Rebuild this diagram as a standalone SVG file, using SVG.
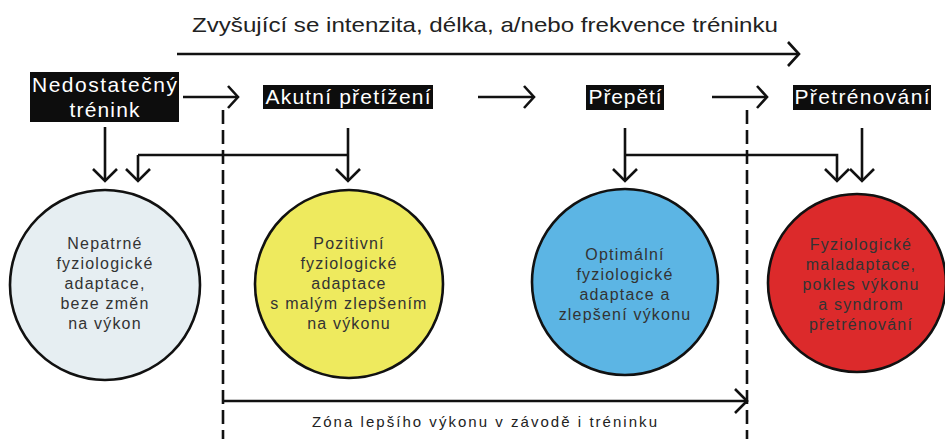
<svg xmlns="http://www.w3.org/2000/svg" width="945" height="439" viewBox="0 0 945 439">
<defs>
<style>
.ln{stroke:#111;stroke-width:2.6;fill:none;stroke-linecap:butt}
.hd{stroke:#111;stroke-width:2.6;fill:none;stroke-linejoin:miter}
.dash{stroke:#111;stroke-width:2.6;fill:none;stroke-dasharray:14 6}
.box{fill:#0d0d0d}
.bt{font-family:"Liberation Sans",Arial,sans-serif;font-size:21px;fill:#fff;text-anchor:middle}
.ct{font-family:"Liberation Sans",Arial,sans-serif;font-size:16px;fill:#333;text-anchor:middle;letter-spacing:1.2px}
.tt{font-family:"Liberation Sans",Arial,sans-serif;fill:#222;text-anchor:middle}
.circ{stroke:#111;stroke-width:2.6}
</style>
</defs>
<rect width="945" height="439" fill="#fff"/>

<g id="top-label">
<text class="tt" x="485" y="32" font-size="21" textLength="586" lengthAdjust="spacingAndGlyphs">Zvyšující se intenzita, délka, a/nebo frekvence tréninku</text>
</g>

<g id="node-nedostatecny">
<rect class="box" x="30" y="72" width="149" height="50"/>
<text class="bt" x="104.5" y="92" textLength="145" lengthAdjust="spacing">Nedostatečný</text>
<text class="bt" x="104.5" y="117" textLength="70" lengthAdjust="spacing">trénink</text>
</g>
<g id="node-akutni">
<rect class="box" x="263" y="85" width="170" height="24"/>
<text class="bt" x="348" y="104" textLength="165" lengthAdjust="spacing">Akutní přetížení</text>
</g>
<g id="node-prepeti">
<rect class="box" x="586" y="85" width="78" height="25"/>
<text class="bt" x="625" y="104" textLength="73" lengthAdjust="spacing">Přepětí</text>
</g>
<g id="node-pretrenovani">
<rect class="box" x="793" y="85" width="138" height="25"/>
<text class="bt" x="862" y="104" textLength="135" lengthAdjust="spacing">Přetrénování</text>
</g>

<g id="node-c1">
<circle class="circ" cx="105" cy="285" r="95" fill="#e6eef2"/>
<text class="ct" x="105" y="249">Nepatrné</text>
<text class="ct" x="105" y="269">fyziologické</text>
<text class="ct" x="105" y="289">adaptace,</text>
<text class="ct" x="105" y="309">beze změn</text>
<text class="ct" x="105" y="329">na výkon</text>
</g>
<g id="node-c2">
<circle class="circ" cx="349" cy="284" r="94" fill="#eeea5e"/>
<text class="ct" x="349" y="249">Pozitivní</text>
<text class="ct" x="349" y="269">fyziologické</text>
<text class="ct" x="349" y="289">adaptace</text>
<text class="ct" x="349" y="309">s malým zlepšením</text>
<text class="ct" x="349" y="329">na výkonu</text>
</g>
<g id="node-c3">
<circle class="circ" cx="625" cy="282" r="93" fill="#5cb5e4"/>
<text class="ct" x="625" y="260">Optimální</text>
<text class="ct" x="625" y="280">fyziologické</text>
<text class="ct" x="625" y="300">adaptace a</text>
<text class="ct" x="625" y="320">zlepšení výkonu</text>
</g>
<g id="node-c4">
<circle class="circ" cx="857" cy="283" r="89" fill="#dc2a2b"/>
<text class="ct" x="861" y="250">Fyziologické</text>
<text class="ct" x="861" y="270">maladaptace,</text>
<text class="ct" x="861" y="290">pokles výkonu</text>
<text class="ct" x="861" y="310">a syndrom</text>
<text class="ct" x="861" y="330">přetrénování</text>
</g>

<g id="connectors">
<path class="ln" d="M177 54 H798"/>
<path class="hd" d="M788 42 L799 54 L788 66"/>
<path class="ln" d="M183 97 H237"/>
<path class="hd" d="M228 86 L238 97 L228 108"/>
<path class="ln" d="M478 97 H533"/>
<path class="hd" d="M524 86 L534 97 L524 108"/>
<path class="ln" d="M712 97 H766"/>
<path class="hd" d="M757 86 L767 97 L757 108"/>
<path class="dash" d="M223 110 V439"/>
<path class="dash" d="M747 110 V439"/>
<path class="ln" d="M105 127 V180"/>
<path class="hd" d="M93 169 L105 181 L117 169"/>
<path class="ln" d="M348 128 V180"/>
<path class="ln" d="M138 155 H348"/>
<path class="ln" d="M138 155 V180"/>
<path class="hd" d="M126 169 L138 181 L150 169"/>
<path class="hd" d="M336 169 L348 181 L360 169"/>
<path class="ln" d="M625 128 V180"/>
<path class="ln" d="M625 155 H837 V180"/>
<path class="hd" d="M613 169 L625 181 L637 169"/>
<path class="hd" d="M825 169 L837 181 L849 169"/>
<path class="ln" d="M862 128 V180"/>
<path class="hd" d="M850 169 L862 181 L874 169"/>
<path class="ln" d="M223 401 H746"/>
<path class="hd" d="M735 389 L747 401 L735 413"/>
</g>

<g id="bottom-label">
<text class="tt" x="484.5" y="427" font-size="15" textLength="345" lengthAdjust="spacing">Zóna lepšího výkonu v závodě i tréninku</text>
</g>
</svg>
